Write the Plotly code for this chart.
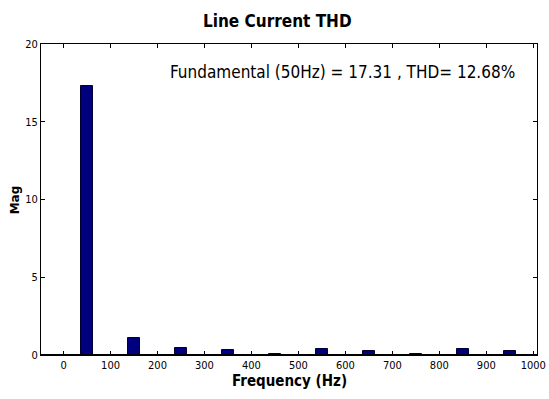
import plotly.graph_objects as go

freqs = [50, 150, 250, 350, 450, 550, 650, 750, 850, 950]
mags = [17.31, 1.12, 0.46, 0.30, 0.07, 0.39, 0.27, 0.06, 0.39, 0.27]
x_ticks = [0, 100, 200, 300, 400, 500, 600, 700, 800, 900, 1000]
y_ticks = [0, 5, 10, 15, 20]
title_text = "Line Current THD"
x_title = "Frequency (Hz)"
y_title = "Mag"
note_text = "Fundamental (50Hz) = 17.31 , THD= 12.68%"

NARROW = "DejaVu Sans Condensed, Liberation Sans Narrow, sans-serif"

fig = go.Figure()
fig.add_trace(go.Bar(
    x=freqs, y=mags, width=26,
    marker=dict(color="#00007f", line=dict(color="#000033", width=1)),
    showlegend=False,
))

fig.update_layout(
    width=549, height=399,
    margin=dict(l=41, r=12, t=44, b=44),
    paper_bgcolor="white", plot_bgcolor="white",
    bargap=0,
)
fig.update_xaxes(
    range=[-48, 1008], tickvals=x_ticks, ticktext=[str(v) for v in x_ticks],
    ticks="inside", ticklen=4, tickcolor="black", tickwidth=1,
    showline=True, linecolor="black", linewidth=1, mirror="ticks",
    showgrid=False, zeroline=False, automargin=False,
    tickfont=dict(family=NARROW, size=11, color="black"),
)
fig.update_yaxes(
    range=[0, 20], tickvals=y_ticks, ticktext=[str(v) for v in y_ticks],
    ticks="inside", ticklen=4, tickcolor="black", tickwidth=1,
    showline=True, linecolor="black", linewidth=1, mirror="ticks",
    showgrid=False, zeroline=False, automargin=False,
    tickfont=dict(family=NARROW, size=11, color="black"),
)
# baseline of bars
fig.add_shape(type="line", xref="paper", yref="y", x0=0, x1=1, y0=0, y1=0,
              line=dict(color="black", width=2))
fig.add_annotation(
    text="<b>" + title_text + "</b>", xref="paper", yref="paper", x=0.476, y=1.074,
    xanchor="center", yanchor="middle", showarrow=False,
    font=dict(family=NARROW, size=17, color="black"),
)
fig.add_annotation(
    text="<b>" + x_title + "</b>", xref="paper", yref="paper", x=0.5, y=-0.084,
    xanchor="center", yanchor="middle", showarrow=False,
    font=dict(family=NARROW, size=15, color="black"),
)
fig.add_annotation(
    text="<b>" + y_title + "</b>", xref="paper", yref="paper", x=-0.052, y=0.498,
    xanchor="center", yanchor="middle", showarrow=False, textangle=-90,
    font=dict(family="DejaVu Sans, sans-serif", size=12, color="black"),
)
fig.add_annotation(
    text=note_text, xref="paper", yref="y", x=0.96, y=18.2,
    xanchor="right", yanchor="middle", showarrow=False,
    font=dict(family=NARROW, size=17, color="black"),
)

fig.write_html("out.html", config={"displayModeBar": False},
               post_script="document.body.style.margin='0';document.body.style.overflow='hidden';")
